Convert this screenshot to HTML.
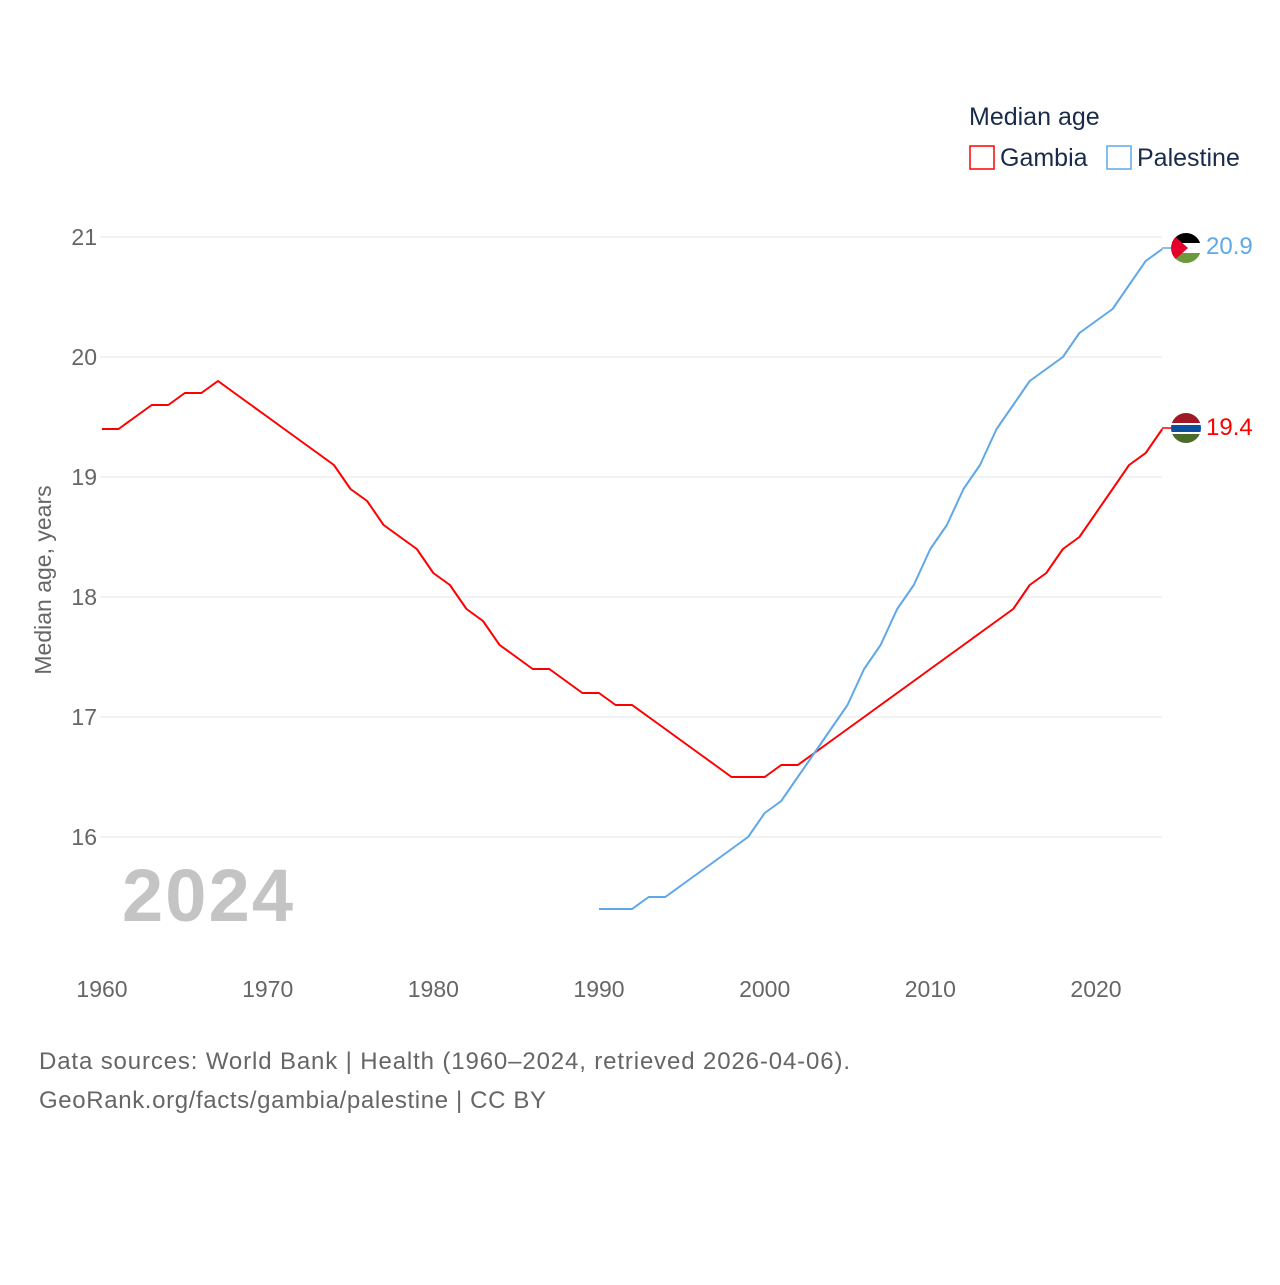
<!DOCTYPE html>
<html><head><meta charset="utf-8"><style>
body{margin:0;background:#fff;width:1280px;height:1280px;overflow:hidden;font-family:"Liberation Sans",sans-serif}
</style></head><body>
<svg width="1280" height="1280" font-family="Liberation Sans, sans-serif">
<text x="969" y="125" font-size="25" fill="#1a2b4a">Median age</text>
<rect x="970" y="146" width="24" height="23" fill="none" stroke="#ff0000" stroke-width="1.5"/>
<text x="1000" y="166" font-size="25" fill="#1a2b4a">Gambia</text>
<rect x="1107" y="146" width="24" height="23" fill="none" stroke="#5fa8e8" stroke-width="1.5"/>
<text x="1137" y="166" font-size="25" fill="#1a2b4a">Palestine</text>
<g id="grid"></g><g id="yt"></g><g id="xt"></g>
<text transform="translate(51,580) rotate(-90)" text-anchor="middle" font-size="23" fill="#666">Median age, years</text>
<text x="122" y="921" font-size="74" font-weight="bold" fill="#c4c4c4" textLength="171">2024</text>
<g id="lines"></g>
<line x1="1162" y1="248" x2="1172" y2="248" stroke="#5fa8e8" stroke-width="1.5"/>
<line x1="1162" y1="428" x2="1172" y2="428" stroke="#ff0000" stroke-width="1.5"/>
<g>
<clipPath id="cp"><circle cx="1186" cy="248" r="15"/></clipPath>
<g clip-path="url(#cp)"><rect x="1170" y="232" width="32" height="11" fill="#000"/><rect x="1170" y="243" width="32" height="10" fill="#fff"/><rect x="1170" y="253" width="32" height="11" fill="#6a9a3a"/><polygon points="1170,232 1188,248 1170,264" fill="#e4002b"/></g></g>
<g>
<clipPath id="cg"><circle cx="1186" cy="428" r="15"/></clipPath>
<g clip-path="url(#cg)"><rect x="1170" y="412" width="32" height="11" fill="#a01826"/><rect x="1170" y="423" width="32" height="2" fill="#fff"/><rect x="1170" y="425" width="32" height="7" fill="#0b4ea2"/><rect x="1170" y="432" width="32" height="2" fill="#fff"/><rect x="1170" y="434" width="32" height="10" fill="#4a6b2a"/></g></g>
<text x="1206" y="254" font-size="24" fill="#5fa8e8">20.9</text>
<text x="1206" y="435" font-size="24" fill="#ff0000">19.4</text>
<text x="39" y="1069" font-size="24" fill="#666" textLength="811">Data sources: World Bank | Health (1960–2024, retrieved 2026-04-06).</text>
<text x="39" y="1108" font-size="24" fill="#666" textLength="507">GeoRank.org/facts/gambia/palestine | CC BY</text>
</svg>
<script>
const yTicks=[16,17,18,19,20,21];
const xTicks=[1960,1970,1980,1990,2000,2010,2020];
const gambiaStart=1960;
const gambia=[19.4,19.4,19.5,19.6,19.6,19.7,19.7,19.8,19.7,19.6,19.5,19.4,19.3,19.2,19.1,18.9,18.8,18.6,18.5,18.4,18.2,18.1,17.9,17.8,17.6,17.5,17.4,17.4,17.3,17.2,17.2,17.1,17.1,17.0,16.9,16.8,16.7,16.6,16.5,16.5,16.5,16.6,16.6,16.7,16.8,16.9,17.0,17.1,17.2,17.3,17.4,17.5,17.6,17.7,17.8,17.9,18.1,18.2,18.4,18.5,18.7,18.9,19.1,19.2,19.4];
const palestineStart=1990;
const palestine=[15.4,15.4,15.4,15.5,15.5,15.6,15.7,15.8,15.9,16.0,16.2,16.3,16.5,16.7,16.9,17.1,17.4,17.6,17.9,18.1,18.4,18.6,18.9,19.1,19.4,19.6,19.8,19.9,20.0,20.2,20.3,20.4,20.6,20.8,20.9];
const X=yr=>102+(yr-1960)*(1096-102)/60;
const Y=v=>237+(21-v)*120;
const NS="http://www.w3.org/2000/svg";
function mk(tag,attrs,parent){const e=document.createElementNS(NS,tag);for(const k in attrs)e.setAttribute(k,attrs[k]);document.getElementById(parent).appendChild(e);return e;}
yTicks.forEach(t=>{
 const l=mk('line',{x1:100,x2:1162,y1:Y(t),y2:Y(t),stroke:'#e6e6e6','stroke-width':1},'grid');
 
 
 const tx=mk('text',{x:97,y:Y(t)+8,'text-anchor':'end','font-size':23,fill:'#666'},'yt');
 tx.textContent=t;
 
 
});
xTicks.forEach(t=>{
 const tx=mk('text',{x:X(t),y:997,'text-anchor':'middle','font-size':23,fill:'#666'},'xt');
 tx.textContent=t;
 
 
});
function line(data,start,color,name){
 const pts=data.map((v,i)=>X(start+i).toFixed(1)+','+Y(v).toFixed(1)).join(' ');
 const p=mk('polyline',{points:pts,fill:'none',stroke:color,'stroke-width':2,'stroke-linejoin':'round'},'lines');
 
 
}
line(gambia,gambiaStart,'#ff0000','line-gambia');
line(palestine,palestineStart,'#5fa8e8','line-palestine');
</script>
</body></html>
